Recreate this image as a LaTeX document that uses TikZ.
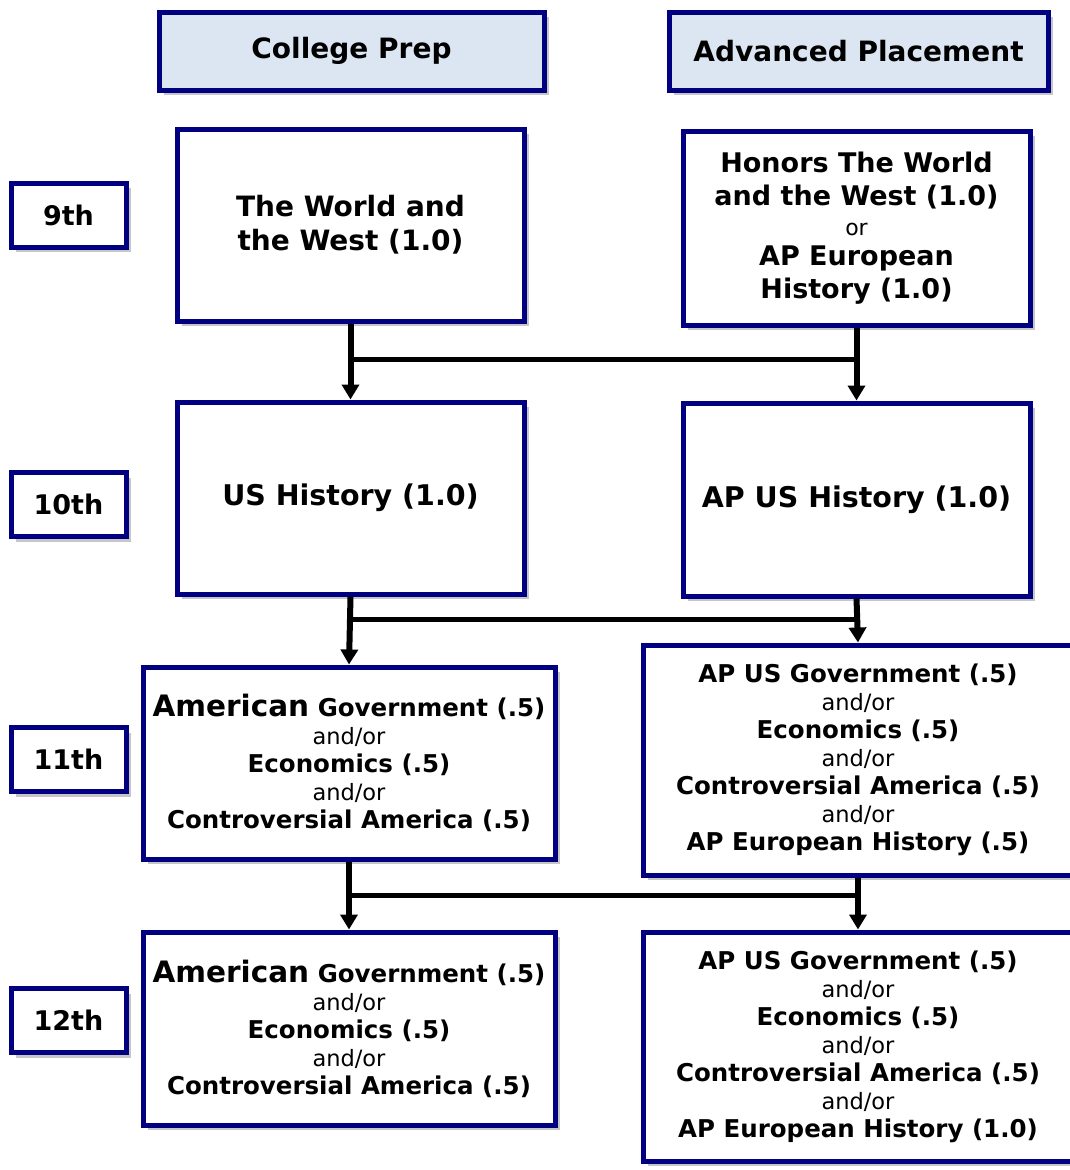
\documentclass[tikz,border=0pt]{standalone}
\usepackage{fontspec}
\setmainfont{DejaVu Sans}
\usetikzlibrary{arrows.meta,shadows,calc}
\definecolor{navy}{HTML}{000080}
\definecolor{hdr}{HTML}{DCE6F2}
\newcommand{\andor}{{\fontsize{22.5}{28}\mdseries\selectfont and/or}}
\newcommand{\bigam}{{\fontsize{29.5}{28}\selectfont American}}
\begin{document}
\begin{tikzpicture}[x=1pt,y=-1pt,
 box/.style={draw=navy, line width=5pt, fill=white, align=center, inner sep=0pt,
   drop shadow={opacity=0.45,shadow xshift=5pt,shadow yshift=-5pt}},
 hdrbox/.style={box, fill=hdr},
 conn/.style={line width=6pt, -{Triangle[width=17pt,length=15pt]}},
 barline/.style={line width=5pt, line cap=rect}]
\useasboundingbox (0,0) rectangle (1069,1170);

% headers
\node[hdrbox, minimum width=385pt, minimum height=78pt, font=\bfseries\fontsize{28}{32}\selectfont] (cp) at (351.5,51) {College Prep};
\node[hdrbox, minimum width=379pt, minimum height=78pt, font=\bfseries\fontsize{28}{32}\selectfont] (ap) at (858.5,51) {Advanced Placement};

% grades
\tikzset{gradebox/.style={box, minimum width=115pt, minimum height=64pt, font=\bfseries\fontsize{27}{32}\selectfont}}
\node[gradebox] (g9) at (68.5,215) {9th};
\node[gradebox] (g10) at (68.5,504.5) {10th};
\node[gradebox] (g11) at (68.5,759.5) {11th};
\node[gradebox] (g12) at (68.5,1020.5) {12th};

% 9th
\node[box, minimum width=347pt, minimum height=192pt, font=\bfseries\fontsize{28}{34}\selectfont] (ww) at (350.5,225)
 {The World and\\the West (1.0)};
\node[box, minimum width=347pt, minimum height=194pt, font=\bfseries\fontsize{27}{30}\selectfont] (hon) at (856.5,228)
 {Honors The World\\[3pt]and the West (1.0)\\{\fontsize{22}{30}\mdseries\selectfont or}\\AP European\\[3pt]History (1.0)};

% 10th
\node[box, minimum width=347pt, minimum height=192pt, font=\bfseries\fontsize{28.5}{32}\selectfont] (ush) at (350.5,498)
 {US History (1.0)};
\node[box, minimum width=347pt, minimum height=193pt, font=\bfseries\fontsize{28.5}{32}\selectfont] (apush) at (856.5,499.5)
 {AP US History (1.0)};

% 11th
\tikzset{smallbox/.style={box, font=\bfseries\fontsize{24.5}{28}\selectfont}}
\node[smallbox, minimum width=412pt, minimum height=192pt] (am11) at (349,763)
 {\bigam{} Government (.5)\\\andor\\Economics (.5)\\\andor\\Controversial America (.5)};
\node[smallbox, minimum width=430pt, minimum height=230pt] (ap11) at (858,760)
 {AP US Government (.5)\\\andor\\Economics (.5)\\\andor\\Controversial America (.5)\\\andor\\AP European History (.5)};

% 12th
\node[smallbox, minimum width=412pt, minimum height=193pt] (am12) at (349,1028.5)
 {\bigam{} Government (.5)\\\andor\\Economics (.5)\\\andor\\Controversial America (.5)};
\node[smallbox, minimum width=430pt, minimum height=229pt] (ap12) at (858,1046.5)
 {AP US Government (.5)\\\andor\\Economics (.5)\\\andor\\Controversial America (.5)\\\andor\\AP European History (1.0)};

% connectors
\coordinate (j1) at (0,359);
\coordinate (j2) at (0,619);
\coordinate (j3) at (0,895);
\draw[conn] (ww.south) -- (ush.north);
\draw[conn] (hon.south) -- (apush.north);
\draw[barline] (ww.south |- j1) -- (hon.south |- j1);
\draw[conn] (ush.south) -- (am11.north);
\draw[conn] (apush.south) -- (ap11.north);
\draw[barline] (ush.south |- j2) -- (apush.south |- j2);
\draw[conn] (am11.south) -- (am12.north);
\draw[conn] (ap11.south) -- (ap12.north);
\draw[barline] (am11.south |- j3) -- (ap11.south |- j3);
\end{tikzpicture}
\end{document}
